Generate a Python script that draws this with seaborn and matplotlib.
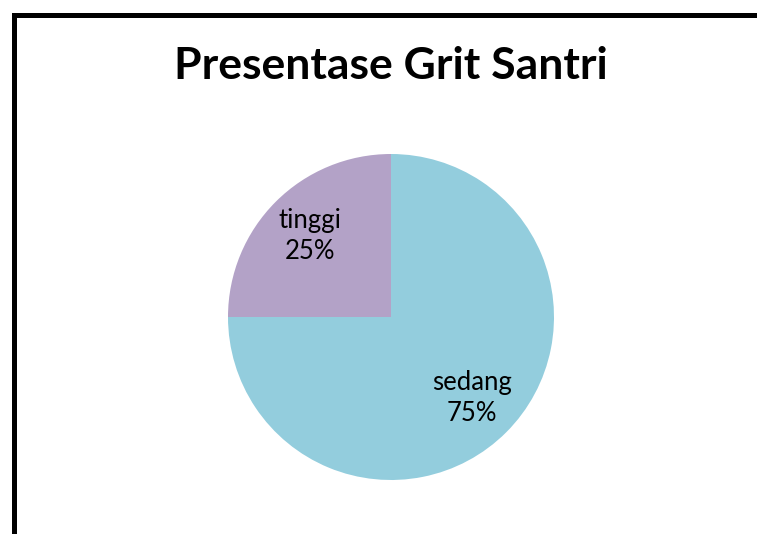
import matplotlib.pyplot as plt
import seaborn as sns
from matplotlib.lines import Line2D

categories = ["sedang", "tinggi"]
values = [75, 25]
colors = ["#93CDDD", "#B3A2C7"]
title = "Presentase Grit Santri"

sns.set_theme(style="white")
plt.rcParams["font.family"] = ["Lato", "DejaVu Sans"]

W, H = 757, 534
fig = plt.figure(figsize=(W / 100, H / 100), dpi=100)

# pie placed by pixel geometry of the reference
cx, cy, r = 391, 317, 163
ax = fig.add_axes([(cx - r) / W, (H - cy - r) / H, 2 * r / W, 2 * r / H])
labels = [f"{c}\n{v}%" for c, v in zip(categories, values)]
wedges, texts = ax.pie(values, labels=labels, colors=colors, startangle=90,
                       counterclock=False, labeldistance=0.7,
                       wedgeprops=dict(linewidth=0))
for t in texts:
    t.set_ha("center")
    t.set_va("center")
    t.set_fontsize(18.5)
    t.set_linespacing(1.3)
    t.set_color("black")
ax.set_xlim(-1, 1)
ax.set_ylim(-1, 1)

fig.text(391 / W, 1 - 66 / H, title, ha="center", va="center",
         fontsize=32, fontweight="bold", color="black")

# chart frame: only top and left edges are visible
x0, y0 = 13.5 / W, 1 - 14.5 / H
fig.add_artist(Line2D([x0, 1.1], [y0, y0], transform=fig.transFigure,
                      color="black", linewidth=3.6, solid_capstyle="projecting"))
fig.add_artist(Line2D([x0, x0], [y0, -0.1], transform=fig.transFigure,
                      color="black", linewidth=3.6, solid_capstyle="projecting"))

fig.savefig("out.png", dpi=100)
